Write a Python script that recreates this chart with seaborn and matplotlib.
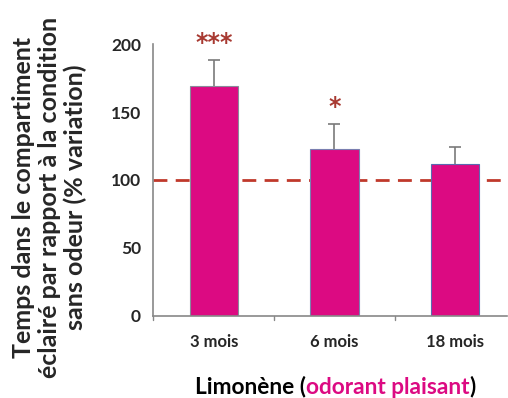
import numpy as np
import pandas as pd
import seaborn as sns
import matplotlib.pyplot as plt
from matplotlib.offsetbox import TextArea, HPacker, AnnotationBbox

# values
ages = ['3 mois', '6 mois', '18 mois']
variation = [169, 122.5, 111.5]
sem = [19, 18.5, 12.5]
stars = ['***', '*', '']

bar_col = '#DC0A82'
red = '#C0392B'

df = pd.DataFrame({'Age': ages, 'Variation': variation})

sns.set_style('white')
plt.rcParams['font.family'] = ['Lato', 'DejaVu Sans']
plt.rcParams['font.weight'] = 'bold'

fig = plt.figure(figsize=(5.08, 3.98), dpi=100)
ax = fig.add_axes([0.302, 0.207, 0.696, 0.682])

# reference line at 100 % (drawn under the bars)
ax.axhline(100, color=red, lw=2, ls=(0, (5, 3)), zorder=1)

sns.barplot(data=df, x='Age', y='Variation', color=bar_col, width=0.4,
            saturation=1, errorbar=None, ax=ax, zorder=2)
edges = ['#8a8a9a', '#7a7fb0', '#5a6ab0']
for patch, ec in zip(ax.patches, edges):
    patch.set_edgecolor(ec)
    patch.set_linewidth(0.8)

xs = np.arange(len(ages))
eb = ax.errorbar(xs, variation, yerr=[np.zeros(len(sem)), sem], fmt='none',
                 ecolor='#7a7a7a', elinewidth=1.2, capsize=4, capthick=1.2, zorder=3)
eb[1][0].set_visible(False)  # no cap at the bar top

for x, v, e, s in zip(xs, variation, sem, stars):
    if s:
        ax.text(x, v + e + 13, s, ha='center', va='center', color='#A83A32',
                fontsize=17, fontweight='bold', family='DejaVu Sans')

ax.set_ylim(0, 200)
ax.set_xlim(-0.5, 2.43)
ax.set_yticks([0, 50, 100, 150, 200])
ax.set_xticks(xs)
ax.set_xticklabels(ages, fontsize=12, fontweight='bold')
ax.tick_params(axis='y', labelsize=12.5, length=3, color='#888888', pad=6)
ax.tick_params(axis='x', length=0, pad=13)
# boundary ticks between categories
for b in [-0.5, 0.5, 1.5]:
    ax.plot([b, b], [0, -3.5], color='#888888', lw=1, clip_on=False)
for lbl in ax.get_yticklabels():
    lbl.set_fontweight('bold')

for side in ['top', 'right']:
    ax.spines[side].set_visible(False)
for side in ['left', 'bottom']:
    ax.spines[side].set_color('#888888')
    ax.spines[side].set_linewidth(1.2)
ax.set_xlabel('')
ax.set_ylabel('')

fig.text(0.098, 0.505,
         'Temps dans le compartiment\néclairé par rapport à la condition\nsans odeur (% variation)',
         rotation=90, ha='center', va='center', multialignment='center',
         fontsize=18, fontweight='bold', linespacing=1.15)

parts = [('Limonène (', 'black'), ('odorant plaisant', bar_col), (')', 'black')]
boxes = [TextArea(t, textprops=dict(color=c, fontsize=16.3, fontweight='bold'))
         for t, c in parts]
pack = HPacker(children=boxes, align='baseline', pad=0, sep=0)
ab = AnnotationBbox(pack, (0.66, 0.028), xycoords='figure fraction',
                    frameon=False, box_alignment=(0.5, 0.5))
fig.add_artist(ab)

fig.savefig('out.png', dpi=100)
